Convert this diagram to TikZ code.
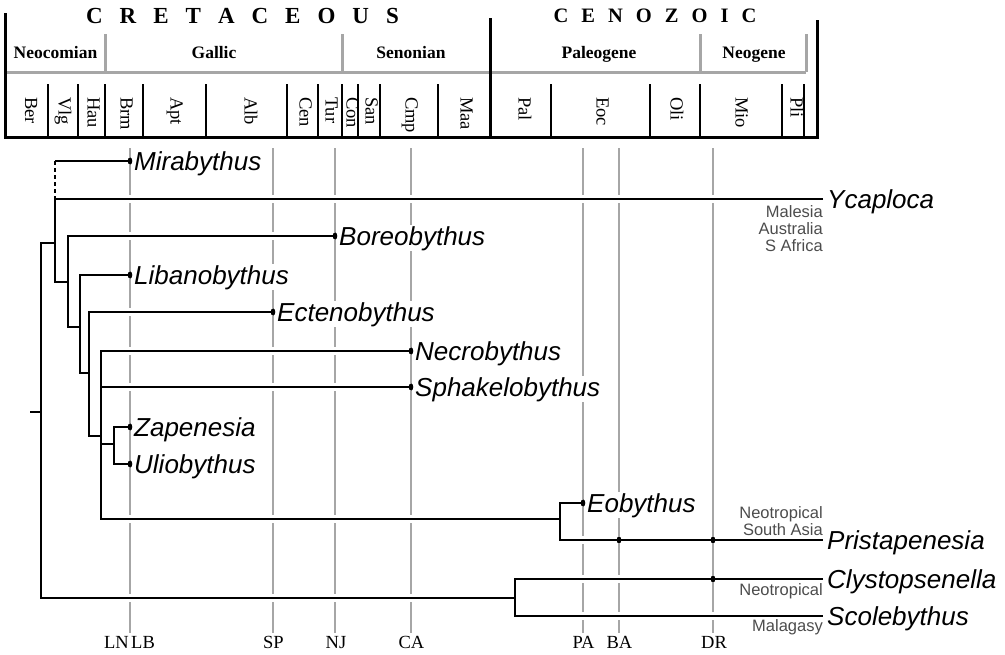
\documentclass[tikz,border=0pt]{standalone}
\usepackage{fontspec}
\setmainfont{Liberation Serif}
\newfontfamily\arialfont{Liberation Sans}
\newcommand\ltk[1]{\kern#1pt\relax}
\begin{document}
\begin{tikzpicture}[x=1pt,y=-1pt,
  hdr/.style={line width=3pt, black, line join=miter},
  hdrgray/.style={line width=3pt, black!35},
  stagediv/.style={line width=2.8pt, black},
  agel/.style={line width=2.2pt, black!35},
  tree/.style={line width=2.5pt, black},
  halo/.style={line width=7.5pt, white},
  treedash/.style={line width=2.5pt, black, dash pattern=on 4pt off 3pt},
  tip/.style={font=\arialfont\itshape\fontsize{26}{30}\selectfont, anchor=base west, inner sep=1pt, fill=white},
  region/.style={font=\arialfont\fontsize{16.5}{18}\selectfont, text=black!70, anchor=base east, inner sep=0pt},
  stage/.style={font=\fontsize{18.5}{20}\selectfont, rotate=-90, anchor=mid west, inner sep=0pt},
  subera/.style={font=\bfseries\fontsize{17.5}{20}\selectfont, anchor=base, inner sep=0pt},
  era/.style={font=\bfseries, anchor=base, inner sep=0pt},
  event/.style={font=\fontsize{18.5}{20}\selectfont, anchor=base, inner sep=0pt},
  dotmark/.style={black}
]
\useasboundingbox (0,0) rectangle (1005,654);

% ---------------- header ----------------
\draw[hdrgray] (5,72) -- (806,72);
\draw[hdrgray] (105,34) -- (105,72);
\draw[hdrgray] (342,34) -- (342,72);
\draw[hdrgray] (700,34) -- (700,72);
\draw[hdrgray] (806,34) -- (806,72);
\foreach \xx in {48,78,105,143,206,287,318,342,358,380,438,551,650,700,782,804}
  \draw[stagediv] (\xx,84) -- (\xx,137.5);
\draw[hdr] (5,13) -- (5,137.5) -- (818.5,137.5);
\draw[hdr] (817,20) -- (817,137.5);
\draw[hdr] (490,18) -- (490,137.5);

\node[era, font=\bfseries\fontsize{23}{25}\selectfont] (cret) at (242.5,23.3)
  {C\ltk{17}R\ltk{17}E\ltk{17}T\ltk{17}A\ltk{17}C\ltk{17}E\ltk{17}O\ltk{17}U\ltk{17}S};
\node[era, font=\bfseries\fontsize{20.5}{24}\selectfont] (ceno) at (655,22.7)
  {C\ltk{13}E\ltk{13}N\ltk{13}O\ltk{13}Z\ltk{13}O\ltk{13}I\ltk{13}C};

\node[subera] (neoc) at (55.5,58.3) {Neocomian};
\node[subera] (gall) at (214,58.3) {Gallic};
\node[subera] (seno) at (411,58.3) {Senonian};
\node[subera] (pale) at (599,58.3) {Paleogene};
\node[subera] (neog) at (754,58.3) {Neogene};

\node[stage] (sBer) at (27.5,97) {Ber};
\node[stage] (sVlg) at (61,97) {Vlg};
\node[stage] (sHau) at (90,97) {Hau};
\node[stage] (sBrm) at (123,97) {Brm};
\node[stage] (sApt) at (173,97) {Apt};
\node[stage] (sAlb) at (247,97) {Alb};
\node[stage] (sCen) at (302,97) {Cen};
\node[stage] (sTur) at (328,97) {Tur};
\node[stage] (sCon) at (349,97) {Con};
\node[stage] (sSan) at (368,97) {San};
\node[stage] (sCmp) at (408,97) {Cmp};
\node[stage] (sMaa) at (463,97) {Maa};
\node[stage] (sPal) at (521,97) {Pal};
\node[stage] (sEoc) at (599,97) {Eoc};
\node[stage] (sOli) at (673,97) {Oli};
\node[stage] (sMio) at (738,97) {Mio};
\node[stage] (sPli) at (793,97) {Pli};

% ---------------- age lines ----------------
\foreach \xx in {130,273,335,411,583,619,713}
  \draw[agel] (\xx,148) -- (\xx,633);

\node[event, anchor=base east] (eLN) at (129,648) {LN};
\node[event, anchor=base west] (eLB) at (131,648) {LB};
\node[event] (eSP) at (273.5,648) {SP};
\node[event] (eNJ) at (336,648) {NJ};
\node[event] (eCA) at (411.5,648) {CA};
\node[event] (ePA) at (583.5,648) {PA};
\node[event] (eBA) at (619.5,648) {BA};
\node[event] (eDR) at (714,648) {DR};

% ---------------- tree coordinates ----------------
\coordinate (rootstub) at (30,412);
\coordinate (root) at (41,412);
\coordinate (nA) at (55,243);
\coordinate (nAtop) at (55,199);
\coordinate (mirc) at (55,161);
\coordinate (nB) at (68,282);
\coordinate (nC) at (80,327);
\coordinate (nD) at (89,373);
\coordinate (nE) at (101,436);
\coordinate (nF) at (114,444);
\coordinate (nG) at (560,519);
\coordinate (nH) at (515,598);

\coordinate (tMira) at (130,161);
\coordinate (tYcap) at (823,199);
\coordinate (tBoreo) at (335,236);
\coordinate (tLiban) at (130,275);
\coordinate (tEcten) at (273,312);
\coordinate (tNecro) at (411,351);
\coordinate (tSphak) at (411,387);
\coordinate (tZap) at (130,427);
\coordinate (tUlio) at (130,464);
\coordinate (tEob) at (583,503);
\coordinate (tPrist) at (823,540);
\coordinate (tClys) at (823,579);
\coordinate (tScol) at (823,616);
\coordinate (dBA) at (619,540);
\coordinate (dDR) at (713,540);
\coordinate (dCl) at (713,579);

\foreach \st in {halo,tree}{
  \draw[\st] (rootstub) -- (root)
    (nA) -| (root) |- (nH)
    (tYcap) -| (nA) |- (nB)
    (tMira) -- (mirc)
    (tBoreo) -| (nB) |- (nC)
    (tLiban) -| (nC) |- (nD)
    (tEcten) -| (nD) |- (nE)
    (tNecro) -| (nE) |- (nG)
    (nE |- tSphak) -- (tSphak)
    (nE |- nF) -- (nF)
    (tZap) -| (nF) |- (tUlio)
    (tEob) -| (nG) |- (tPrist)
    (tClys) -| (nH) |- (tScol);
}
\draw[treedash] (mirc) -- (nAtop);

\foreach \pp in {tMira,tBoreo,tLiban,tEcten,tNecro,tSphak,tZap,tUlio,tEob,dBA,dDR,dCl}
  \fill[dotmark] (\pp) ellipse [x radius=2.3pt, y radius=3.6pt];

% ---------------- labels ----------------
\node[tip] (lMira) at ([xshift=3pt,yshift=-9pt]tMira) {Mirabythus};
\node[tip] (lYcap) at ([xshift=3pt,yshift=-9pt]tYcap) {Ycaploca};
\node[tip] (lBoreo) at ([xshift=3pt,yshift=-9pt]tBoreo) {Boreobythus};
\node[tip] (lLiban) at ([xshift=3pt,yshift=-9pt]tLiban) {Libanobythus};
\node[tip] (lEcten) at ([xshift=3pt,yshift=-9pt]tEcten) {Ectenobythus};
\node[tip] (lNecro) at ([xshift=3pt,yshift=-9pt]tNecro) {Necrobythus};
\node[tip] (lSphak) at ([xshift=3pt,yshift=-9pt]tSphak) {Sphakelobythus};
\node[tip] (lZap) at ([xshift=3pt,yshift=-9pt]tZap) {Zapenesia};
\node[tip] (lUlio) at ([xshift=3pt,yshift=-9pt]tUlio) {Uliobythus};
\node[tip] (lEob) at ([xshift=3pt,yshift=-9pt]tEob) {Eobythus};
\node[tip] (lPrist) at ([xshift=3pt,yshift=-9pt]tPrist) {Pristapenesia};
\node[tip] (lClys) at ([xshift=3pt,yshift=-9pt]tClys) {Clystopsenella};
\node[tip] (lScol) at ([xshift=3pt,yshift=-9pt]tScol) {Scolebythus};

\node[region] (rMal) at (823,217) {Malesia};
\node[region] (rAus) at (823,234) {Australia};
\node[region] (rSAf) at (823,251) {S Africa};
\node[region] (rNeo1) at (823,518.3) {Neotropical};
\node[region] (rSAs) at (823,535) {South Asia};
\node[region] (rNeo2) at (823,595.7) {Neotropical};
\node[region] (rMlg) at (823,631.7) {Malagasy};
\end{tikzpicture}
\end{document}
